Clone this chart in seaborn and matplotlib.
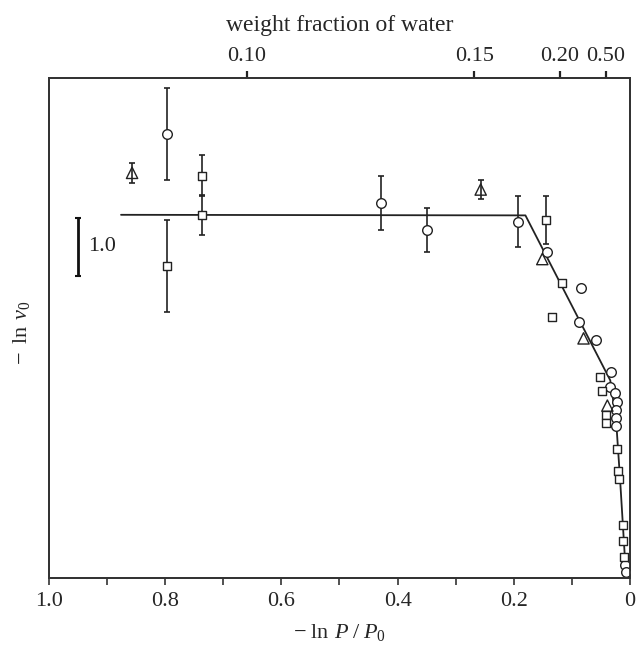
import numpy as np
import pandas as pd
import matplotlib
matplotlib.use("Agg")
import matplotlib.pyplot as plt
import seaborn as sns

# ---------------- data ----------------
# fitted line (x = -ln P/P0, y = -ln v0, arbitrary offset)
line_x = [0.876, 0.180, 0.034, 0.024, 0.017, 0.007]
line_y = [6.32, 6.31, 3.44, 2.75, 1.70, 0.05]

# circles
circ_err_x = [0.797, 0.429, 0.349, 0.193]
circ_err_y = [7.72, 6.53, 6.06, 6.20]
circ_err_e = [0.80, 0.47, 0.38, 0.44]
circ_x = [0.143, 0.085, 0.087, 0.059, 0.033, 0.035, 0.026, 0.023, 0.024, 0.024, 0.024, 0.009, 0.007]
circ_y = [5.67, 5.04, 4.46, 4.15, 3.58, 3.33, 3.22, 3.07, 2.92, 2.78, 2.64, 0.23, 0.10]

# squares
sq_err_x = [0.737, 0.737, 0.797, 0.145]
sq_err_y = [7.00, 6.32, 5.43, 6.23]
sq_err_e = [0.36, 0.35, 0.80, 0.42]
sq_x = [0.117, 0.134, 0.051, 0.049, 0.041, 0.042, 0.022, 0.020, 0.019, 0.012, 0.012, 0.011]
sq_y = [5.14, 4.54, 3.50, 3.25, 2.83, 2.69, 2.25, 1.87, 1.72, 0.93, 0.64, 0.37]

# triangles
tri_err_x = [0.857, 0.257]
tri_err_y = [7.05, 6.76]
tri_err_e = [0.17, 0.17]
tri_x = [0.151, 0.080, 0.039]
tri_y = [5.55, 4.17, 3.00]

# top axis: weight fraction of water
top_tick_pos = [0.660, 0.268, 0.121, 0.042]
top_tick_labels = ["0.10", "0.15", "0.20", "0.50"]

bottom_ticks = [1.0, 0.9, 0.8, 0.7, 0.6, 0.5, 0.4, 0.3, 0.2, 0.1, 0.0]
bottom_labels = ["1.0", "", "0.8", "", "0.6", "", "0.4", "", "0.2", "", "0"]

# scale bar
scale_x = 0.950
scale_y = 5.76
scale_len = 1.0

# ---------------- style ----------------
sns.set_style("ticks")
plt.rcParams["font.family"] = ["Liberation Serif", "DejaVu Serif"]
plt.rcParams["mathtext.fontset"] = "custom"
plt.rcParams["mathtext.rm"] = "Liberation Serif"
plt.rcParams["mathtext.it"] = "Liberation Serif:italic"
plt.rcParams["font.size"] = 16

ink = "#222222"
spine_c = "#333333"

fig = plt.figure(figsize=(6.36, 6.47), dpi=100)
ax = fig.add_axes([0.077, 0.1066, 0.9136, 0.7728])

# fitted line
df_line = pd.DataFrame({"x": line_x, "y": line_y})
sns.lineplot(data=df_line, x="x", y="y", sort=False, color=ink, lw=1.3, ax=ax, zorder=2)

# error bars
ekw = dict(fmt="none", ecolor=ink, elinewidth=1.2, capsize=2.3, capthick=1.2, zorder=1)
ax.errorbar(circ_err_x, circ_err_y, yerr=circ_err_e, **ekw)
ax.errorbar(sq_err_x, sq_err_y, yerr=sq_err_e, **ekw)
ax.errorbar(tri_err_x, tri_err_y, yerr=tri_err_e, **ekw)

# markers
sns.scatterplot(x=circ_err_x + circ_x, y=circ_err_y + circ_y, marker="o", s=48,
                facecolor="white", edgecolor=ink, linewidth=1.0, ax=ax, zorder=3)
sns.scatterplot(x=sq_err_x + sq_x, y=sq_err_y + sq_y, marker="s", s=40,
                facecolor="white", edgecolor=ink, linewidth=1.0, ax=ax, zorder=3)
sns.scatterplot(x=tri_err_x + tri_x, y=tri_err_y + tri_y, marker="^", s=66,
                facecolor="none", edgecolor=ink, linewidth=1.0, ax=ax, zorder=3)

# scale bar
ax.errorbar([scale_x], [scale_y], yerr=[scale_len / 2], fmt="none", ecolor="#111111",
            elinewidth=2.0, capsize=2.0, capthick=1.5, zorder=2)
ax.text(0.932, scale_y, "1.0", ha="left", va="center", fontsize=16, color=ink)

ax.set_xlim(0.995, 0.0)
ax.set_ylim(0.0, 8.7)
ax.set_yticks([])
ax.set_xticks(bottom_ticks)
ax.set_xticklabels(bottom_labels)
ax.tick_params(axis="x", direction="out", length=5, width=1.2, color=spine_c, pad=5, labelsize=16)
ax.set_xlabel(r"$-\;\mathrm{ln}\;\,P\;/\;P_0$", fontsize=16, labelpad=8)
ax.set_ylabel(r"$-\;\;\mathrm{ln}\;\,v_0$", fontsize=16)
ax.yaxis.set_label_coords(-0.03, 0.49)
for s in ax.spines.values():
    s.set_visible(True)
    s.set_color(spine_c)
    s.set_linewidth(1.3)

# top axis
ax2 = ax.twiny()
ax2.set_xlim(ax.get_xlim())
ax2.set_xticks(top_tick_pos)
ax2.set_xticklabels(top_tick_labels)
ax2.tick_params(axis="x", direction="out", length=5, width=1.6, color=ink, pad=4, labelsize=16)
ax2.set_xlabel("weight fraction of water", fontsize=17, labelpad=11)
for s in ax2.spines.values():
    s.set_color(spine_c)
    s.set_linewidth(1.3)

fig.savefig("out.png", dpi=100)
